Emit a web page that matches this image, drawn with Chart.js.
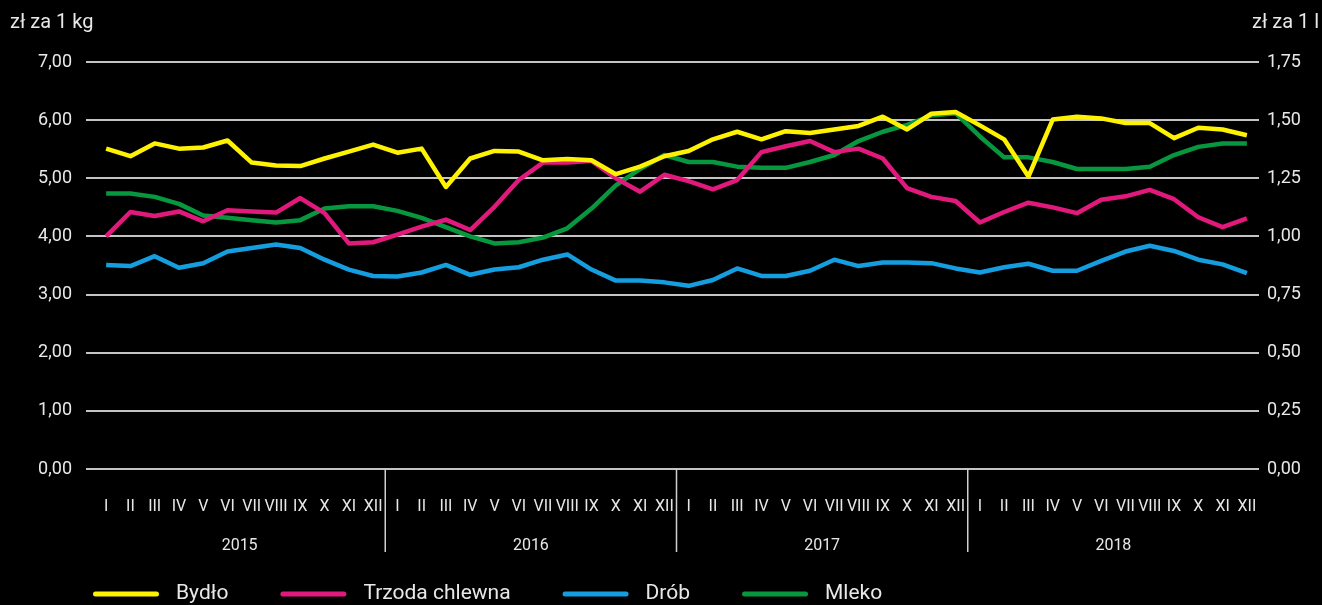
<!DOCTYPE html>
<html lang="pl">
<head>
<meta charset="utf-8">
<title>Ceny skupu</title>
<script src="https://cdn.jsdelivr.net/npm/chart.js@4.4.1/dist/chart.umd.min.js"></script>
<style>
    html, body { margin: 0; padding: 0; background: #000; }
    #wrap { width: 1322px; height: 605px; position: relative; }
</style>
</head>
<body>
<div id="wrap"><canvas id="priceChart"></canvas></div>
<script>
// --- Data ---
const years = ['2015', '2016', '2017', '2018'];
const months = ['I', 'II', 'III', 'IV', 'V', 'VI', 'VII', 'VIII', 'IX', 'X', 'XI', 'XII'];

// zł za 1 kg
const bydlo = [5.51, 5.38, 5.60, 5.51, 5.53, 5.65, 5.27, 5.22, 5.21, 5.34, 5.46, 5.58,
               5.44, 5.51, 4.85, 5.34, 5.47, 5.46, 5.31, 5.33, 5.31, 5.07, 5.20, 5.38,
               5.47, 5.67, 5.80, 5.67, 5.81, 5.78, 5.84, 5.90, 6.06, 5.84, 6.11, 6.14,
               5.91, 5.67, 5.03, 6.01, 6.06, 6.03, 5.95, 5.95, 5.69, 5.87, 5.84, 5.74];
const trzoda = [4.00, 4.42, 4.35, 4.43, 4.26, 4.45, 4.43, 4.41, 4.66, 4.40, 3.88, 3.90,
                4.03, 4.17, 4.29, 4.11, 4.51, 4.97, 5.27, 5.27, 5.30, 5.00, 4.77, 5.06,
                4.95, 4.81, 4.97, 5.45, 5.55, 5.64, 5.45, 5.51, 5.34, 4.83, 4.68, 4.61,
                4.24, 4.42, 4.58, 4.50, 4.40, 4.63, 4.69, 4.80, 4.64, 4.33, 4.16, 4.31];
const drob = [3.51, 3.49, 3.66, 3.46, 3.54, 3.74, 3.80, 3.86, 3.80, 3.60, 3.43, 3.32,
              3.31, 3.38, 3.51, 3.34, 3.43, 3.47, 3.60, 3.69, 3.43, 3.24, 3.24, 3.21,
              3.15, 3.25, 3.45, 3.32, 3.32, 3.41, 3.60, 3.49, 3.55, 3.55, 3.54, 3.45,
              3.38, 3.47, 3.53, 3.41, 3.41, 3.58, 3.74, 3.84, 3.75, 3.60, 3.52, 3.37];
// zł za 1 l (right axis)
const mleko = [1.185, 1.185, 1.17, 1.14, 1.09, 1.08, 1.07, 1.06, 1.07, 1.12, 1.13, 1.13,
               1.11, 1.08, 1.04, 1.00, 0.97, 0.975, 0.995, 1.035, 1.12, 1.22, 1.29, 1.35,
               1.32, 1.32, 1.30, 1.295, 1.295, 1.32, 1.35, 1.41, 1.45, 1.48, 1.52, 1.53,
               1.43, 1.34, 1.34, 1.32, 1.29, 1.29, 1.29, 1.30, 1.35, 1.385, 1.40, 1.40];

const leftTitle = 'zł za 1 kg';
const rightTitle = 'zł za 1 l';

// one label per month, 4 years
const labels = years.flatMap(() => months);

const textColor = '#e8e8e8';
const gridColor = '#c4c4c4';
const fontFamily = 'Roboto, "Open Sans", sans-serif';

const fmt = v => v.toFixed(2).replace('.', ',');

// --- Extra drawing: axis titles, year separators, year labels, legend ---
const extras = {
    id: 'extras',
    afterDraw(chart) {
        const { ctx, chartArea } = chart;
        const x = chart.scales.x;
        ctx.save();
        ctx.fillStyle = textColor;
        ctx.textBaseline = 'middle';

        // axis titles
        ctx.font = `20px ${fontFamily}`;
        ctx.textAlign = 'left';
        ctx.fillText(leftTitle, 10, 23);
        ctx.fillText(rightTitle, 1252, 23);

        // year separators below the axis
        ctx.strokeStyle = '#d0d0d0';
        ctx.lineWidth = 1.5;
        for (let i = 1; i < years.length; i++) {
            const px = (x.getPixelForValue(i * 12 - 1) + x.getPixelForValue(i * 12)) / 2;
            ctx.beginPath();
            ctx.moveTo(px, chartArea.bottom);
            ctx.lineTo(px, chartArea.bottom + 83);
            ctx.stroke();
        }

        // year labels
        ctx.font = `16px ${fontFamily}`;
        ctx.textAlign = 'center';
        years.forEach((yr, i) => {
            const px = (x.getPixelForValue(i * 12) + x.getPixelForValue(i * 12 + 11)) / 2;
            ctx.fillText(yr, px, chartArea.bottom + 77);
        });

        // legend
        ctx.font = `21px ${fontFamily}`;
        ctx.textAlign = 'left';
        ctx.lineCap = 'round';
        ctx.lineWidth = 5;
        let lx = 93;
        const ly = 594;
        chart.data.datasets.forEach(ds => {
            ctx.strokeStyle = ds.borderColor;
            ctx.beginPath();
            ctx.moveTo(lx + 2.5, ly);
            ctx.lineTo(lx + 63.5, ly);
            ctx.stroke();
            ctx.fillText(ds.label, lx + 83, ly);
            lx += 83 + ctx.measureText(ds.label).width + 52;
        });
        ctx.restore();
    }
};

function lineSet(label, data, color, axis) {
    return {
        label: label,
        data: data,
        yAxisID: axis,
        borderColor: color,
        backgroundColor: color,
        borderWidth: 4.5,
        pointRadius: 0,
        tension: 0,
        borderJoinStyle: 'round'
    };
}

const ctx = document.getElementById('priceChart').getContext('2d');
new Chart(ctx, {
    type: 'line',
    data: {
        labels: labels,
        datasets: [
            lineSet('Bydło', bydlo, '#fff200', 'y'),
            lineSet('Trzoda chlewna', trzoda, '#e2197d', 'y'),
            lineSet('Drób', drob, '#149ddf', 'y'),
            lineSet('Mleko', mleko, '#07973f', 'y1')
        ]
    },
    options: {
        responsive: true,
        maintainAspectRatio: false,
        animation: false,
        layout: { padding: { top: 62, left: 0, right: 0, bottom: 0 } },
        plugins: {
            legend: { display: false },
            tooltip: { enabled: false }
        },
        scales: {
            x: {
                offset: true,
                grid: { display: false },
                border: { display: false },
                ticks: {
                    color: textColor,
                    font: { family: fontFamily, size: 16 },
                    autoSkip: false,
                    maxRotation: 0,
                    padding: 20
                },
                afterFit: s => { s.height = 136; }
            },
            y: {
                position: 'left',
                min: 0,
                max: 7,
                grid: {
                    color: gridColor,
                    lineWidth: 2,
                    tickLength: 8,
                    tickColor: gridColor
                },
                border: { display: false },
                ticks: {
                    stepSize: 1,
                    color: textColor,
                    font: { family: fontFamily, size: 18 },
                    padding: 14,
                    callback: v => fmt(v)
                },
                afterFit: s => { s.width = 94; }
            },
            y1: {
                position: 'right',
                min: 0,
                max: 1.75,
                grid: { drawOnChartArea: false, drawTicks: false },
                border: { display: false },
                ticks: {
                    stepSize: 0.25,
                    color: textColor,
                    font: { family: fontFamily, size: 18 },
                    padding: 8,
                    callback: v => fmt(v)
                },
                afterFit: s => { s.width = 63; }
            }
        }
    },
    plugins: [extras]
});
</script>
</body>
</html>
